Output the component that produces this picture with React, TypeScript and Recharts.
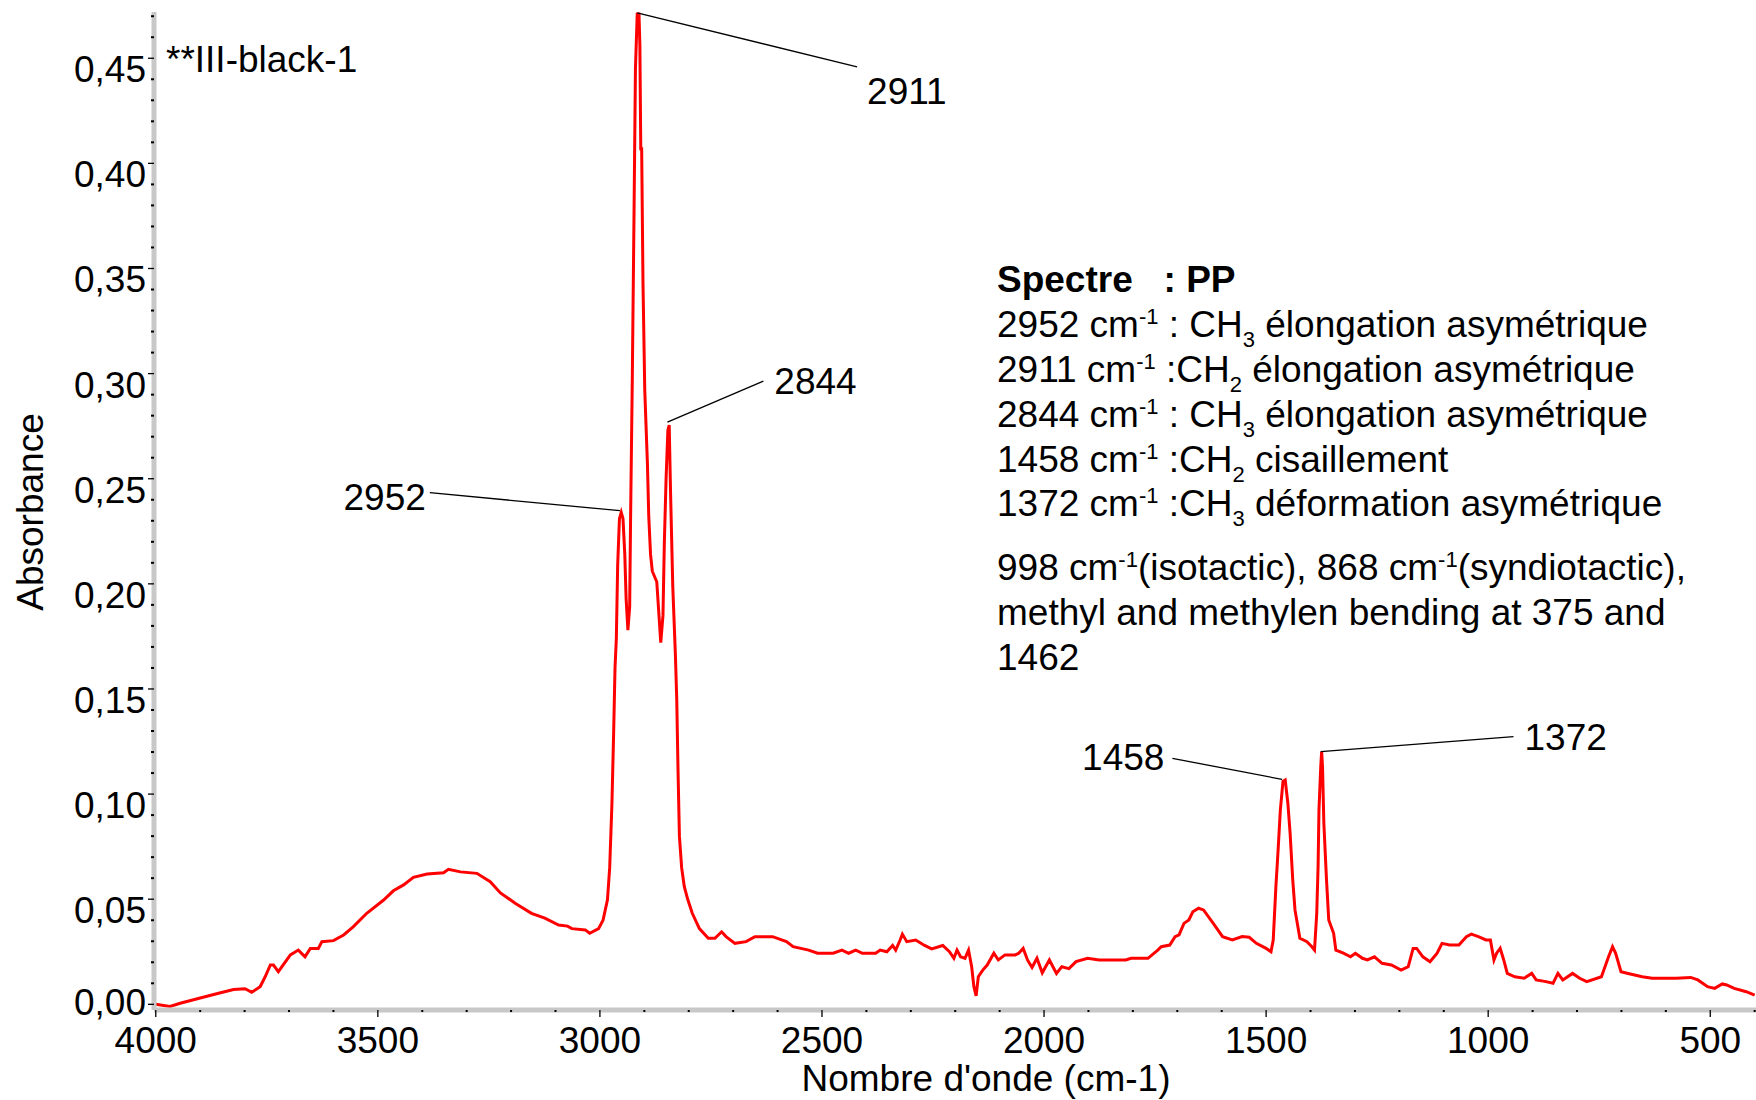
import React from 'react';
import { LineChart, Line, XAxis, YAxis, ReferenceLine, ReferenceDot } from 'recharts';

const FONT = '"Liberation Sans", Arial, Helvetica, sans-serif';

// wavenumber (cm-1), high to low
const wavenumbers = [
  4000, 3968, 3945, 3900, 3863, 3825, 3799, 3784, 3765, 3754,
  3742, 3735, 3724, 3697, 3679, 3664, 3652, 3634, 3626, 3600,
  3577, 3555, 3525, 3487, 3465, 3442, 3420, 3389, 3352, 3341,
  3314, 3277, 3247, 3224, 3190, 3154, 3124, 3093, 3073, 3063,
  3033, 3023, 3003, 2993, 2983, 2978, 2973, 2969, 2966, 2963,
  2960, 2956, 2952, 2948, 2944, 2941, 2937, 2933, 2931, 2927,
  2923, 2920, 2916, 2912, 2910, 2908, 2906, 2903, 2899, 2893,
  2890, 2886, 2882, 2872, 2867, 2863, 2858, 2855, 2851, 2847,
  2844, 2841, 2836, 2830, 2827, 2824, 2821, 2816, 2810, 2802,
  2792, 2776, 2756, 2741, 2726, 2716, 2696, 2671, 2651, 2611,
  2580, 2565, 2530, 2510, 2475, 2455, 2440, 2424, 2409, 2379,
  2369, 2354, 2341, 2334, 2324, 2319, 2309, 2289, 2269, 2253,
  2228, 2213, 2203, 2196, 2188, 2178, 2170, 2163, 2158, 2153,
  2148, 2138, 2128, 2113, 2103, 2088, 2065, 2057, 2047, 2037,
  2027, 2016, 2004, 1988, 1972, 1960, 1944, 1928, 1902, 1876,
  1859, 1816, 1804, 1766, 1744, 1736, 1717, 1705, 1696, 1685,
  1674, 1665, 1652, 1641, 1619, 1598, 1576, 1554, 1538, 1522,
  1500, 1489, 1484, 1478, 1473, 1468, 1462, 1457, 1451, 1446,
  1440, 1435, 1424, 1408, 1397, 1391, 1386, 1383, 1381, 1377,
  1375, 1373, 1370, 1364, 1359, 1348, 1343, 1326, 1310, 1299,
  1283, 1272, 1256, 1239, 1218, 1196, 1180, 1169, 1161, 1147,
  1131, 1115, 1104, 1087, 1066, 1049, 1038, 1022, 1005, 995,
  987, 981, 973, 965, 957, 940, 919, 902, 892, 870,
  854, 843, 832, 810, 794, 778, 745, 729, 720, 713,
  701, 685, 653, 631, 577, 544, 528, 506, 490, 473,
  463, 446, 419, 400,
];

// absorbance, same order as wavenumbers
const absorbance = [
  0, -0.001, 0.0005, 0.003, 0.005, 0.007, 0.0074, 0.0057, 0.0084, 0.013,
  0.0187, 0.0187, 0.0155, 0.0235, 0.0258, 0.0226, 0.0266, 0.0266, 0.0298, 0.0303,
  0.033, 0.037, 0.0433, 0.0496, 0.054, 0.0568, 0.0604, 0.062, 0.0626, 0.0642,
  0.063, 0.0623, 0.0583, 0.053, 0.048, 0.0433, 0.041, 0.0377, 0.0372, 0.036,
  0.0354, 0.0338, 0.036, 0.04, 0.0497, 0.065, 0.095, 0.13, 0.16, 0.174,
  0.209, 0.231, 0.234, 0.231, 0.214, 0.193, 0.178, 0.189, 0.23, 0.299,
  0.38, 0.445, 0.471, 0.471, 0.456, 0.407, 0.407, 0.343, 0.292, 0.257,
  0.232, 0.214, 0.206, 0.201, 0.185, 0.172, 0.185, 0.219, 0.25, 0.273,
  0.2755, 0.244, 0.199, 0.166, 0.145, 0.11, 0.08, 0.065, 0.056, 0.0497,
  0.0433, 0.036, 0.0314, 0.0314, 0.0345, 0.0322, 0.029, 0.0298, 0.0322, 0.0322,
  0.0298, 0.0274, 0.0258, 0.0243, 0.0243, 0.0258, 0.0243, 0.0258, 0.0243, 0.0243,
  0.0258, 0.025, 0.028, 0.0258, 0.0306, 0.0334, 0.0298, 0.0306, 0.028, 0.0264,
  0.028, 0.025, 0.0219, 0.0258, 0.0226, 0.0219, 0.0258, 0.0179, 0.0084, 0.004,
  0.0131, 0.0163, 0.0187, 0.0243, 0.0211, 0.0235, 0.0235, 0.0243, 0.0266, 0.021,
  0.0175, 0.0219, 0.015, 0.0211, 0.0147, 0.0179, 0.017, 0.0203, 0.0219, 0.0211,
  0.0211, 0.0211, 0.0219, 0.0219, 0.0258, 0.0274, 0.0282, 0.0322, 0.033, 0.0385,
  0.0401, 0.044, 0.0457, 0.0449, 0.0385, 0.0322, 0.0306, 0.0322, 0.0319, 0.029,
  0.0266, 0.025, 0.0306, 0.056, 0.0734, 0.0924, 0.106, 0.1067, 0.0956, 0.0814,
  0.0591, 0.0449, 0.0314, 0.0298, 0.0274, 0.0258, 0.0433, 0.0655, 0.0924, 0.113,
  0.1202, 0.113, 0.0861, 0.0591, 0.0401, 0.0338, 0.0258, 0.0243, 0.0226, 0.0243,
  0.0219, 0.0211, 0.0226, 0.0195, 0.0187, 0.0163, 0.0179, 0.0266, 0.0266, 0.0226,
  0.0203, 0.0243, 0.029, 0.0282, 0.0282, 0.0322, 0.0334, 0.0322, 0.0306, 0.0306,
  0.0211, 0.0243, 0.0266, 0.0211, 0.0147, 0.0131, 0.0124, 0.0147, 0.0116, 0.0108,
  0.01, 0.0147, 0.0116, 0.0147, 0.0124, 0.0108, 0.0131, 0.0226, 0.0274, 0.0243,
  0.0155, 0.0147, 0.0131, 0.0124, 0.0124, 0.0128, 0.0116, 0.0084, 0.0076, 0.0097,
  0.0092, 0.0076, 0.006, 0.0044,
];

const xMajorTicks = [4000, 3500, 3000, 2500, 2000, 1500, 1000, 500];
const yMajorTicks = [0, 0.05, 0.1, 0.15, 0.2, 0.25, 0.3, 0.35, 0.4, 0.45];
const yTickLabels = ['0,00', '0,05', '0,10', '0,15', '0,20', '0,25', '0,30', '0,35', '0,40', '0,45'];

// minor ticks every 100 cm-1 and every 0.01
const xTicks = Array.from({ length: 37 }, (_, i) => 4000 - i * 100);
const yTicks = Array.from({ length: 48 }, (_, i) => i / 100);

// peak annotations: name, point on the peak, far end of the leader line
const peakNames = ['2952', '2911', '2844', '1458', '1372'];
const peakPoints = [[2955, 0.2348], [2916, 0.4716], [2848, 0.2769], [1464, 0.107], [1377, 0.1202]];
const leaderEnds = [[3383, 0.2434], [2421, 0.4459], [2632, 0.2964], [1711, 0.117], [943, 0.1273]];
const labelOffsets = [
  { dx: -4, dy: 17, anchor: 'end' },
  { dx: 10, dy: 37, anchor: 'start' },
  { dx: 11, dy: 13, anchor: 'start' },
  { dx: -8, dy: 12, anchor: 'end' },
  { dx: 11, dy: 13, anchor: 'start' },
];

type Seg = { t: string; sup?: boolean; sub?: boolean };
const noteTitle = 'Spectre   : PP';
const noteRows: Seg[][] = [
  [{ t: '2952 cm' }, { t: '-1', sup: true }, { t: ' : CH' }, { t: '3', sub: true }, { t: ' élongation asymétrique' }],
  [{ t: '2911 cm' }, { t: '-1', sup: true }, { t: ' :CH' }, { t: '2', sub: true }, { t: ' élongation asymétrique' }],
  [{ t: '2844 cm' }, { t: '-1', sup: true }, { t: ' : CH' }, { t: '3', sub: true }, { t: ' élongation asymétrique' }],
  [{ t: '1458 cm' }, { t: '-1', sup: true }, { t: ' :CH' }, { t: '2', sub: true }, { t: ' cisaillement' }],
  [{ t: '1372 cm' }, { t: '-1', sup: true }, { t: ' :CH' }, { t: '3', sub: true }, { t: ' déformation asymétrique' }],
  [{ t: '998 cm' }, { t: '-1', sup: true }, { t: '(isotactic), 868 cm' }, { t: '-1', sup: true }, { t: '(syndiotactic),' }],
  [{ t: 'methyl and methylen bending at 375 and' }],
  [{ t: '1462' }],
];
const noteBaselines = [337, 382, 427, 472, 516, 580, 625, 670];

const data = wavenumbers.map((wn, i) => ({ wn, a: absorbance[i] }));

const XTick = (props: any) => {
  const { x, y, payload } = props;
  const v = payload.value;
  const major = xMajorTicks.includes(v);
  return (
    <g>
      <line x1={x} x2={x} y1={y} y2={y + (major ? 7 : 2)} stroke="#000" strokeWidth={major ? 1.3 : 2} />
      {major && (
        <text x={x} y={y + 43} textAnchor="middle" fontSize={37} fontFamily={FONT} fill="#000">
          {v}
        </text>
      )}
    </g>
  );
};

const YTick = (props: any) => {
  const { x, y, payload } = props;
  const k = Math.round(payload.value * 100);
  const idx = yMajorTicks.findIndex((t) => Math.round(t * 100) === k);
  const major = idx >= 0;
  return (
    <g>
      <line x1={x - (major ? 6 : 3)} x2={x} y1={y} y2={y} stroke="#000" strokeWidth={major ? 1.3 : 2} />
      {major && (
        <text x={x - 8} y={y + (k === 0 ? 11 : 24)} textAnchor="end" fontSize={37} fontFamily={FONT} fill="#000">
          {yTickLabels[idx]}
        </text>
      )}
    </g>
  );
};

const renderSegs = (segs: Seg[]) => {
  let shift = 0;
  return segs.map((s, i) => {
    const target = s.sup ? -13 : s.sub ? 10 : 0;
    const dy = target - shift;
    shift = target;
    return (
      <tspan key={i} dy={dy || undefined} fontSize={s.sup || s.sub ? 22 : undefined}>
        {s.t}
      </tspan>
    );
  });
};

export default function App() {
  return (
    <div style={{ position: 'absolute', left: 0, top: 0, width: 1756, height: 1100, background: '#fff' }}>
      <LineChart width={1756} height={1100} data={data} margin={{ top: 12, right: 0, bottom: 0, left: 0 }}>
        <XAxis
          dataKey="wn"
          type="number"
          domain={[397, 4004]}
          reversed
          allowDataOverflow
          ticks={xTicks}
          interval={0}
          height={90}
          tickSize={0}
          tickMargin={0}
          tick={<XTick />}
          axisLine={{ stroke: '#c8c8c8', strokeWidth: 5 }}
        />
        <YAxis
          type="number"
          domain={[-0.0027, 0.472]}
          allowDataOverflow
          ticks={yTicks}
          interval={0}
          width={154}
          tickSize={0}
          tickMargin={0}
          tick={<YTick />}
          axisLine={{ stroke: '#c8c8c8', strokeWidth: 5 }}
        />
        <Line
          type="linear"
          dataKey="a"
          stroke="#ff0000"
          strokeWidth={3}
          dot={false}
          activeDot={false}
          isAnimationActive={false}
        />
        {peakNames.map((name, i) => (
          <ReferenceLine
            key={'l' + name}
            segment={[
              { x: peakPoints[i][0], y: peakPoints[i][1] },
              { x: leaderEnds[i][0], y: leaderEnds[i][1] },
            ]}
            stroke="#000"
            strokeWidth={1.3}
            ifOverflow="visible"
          />
        ))}
        {peakNames.map((name, i) => (
          <ReferenceDot
            key={'d' + name}
            x={leaderEnds[i][0]}
            y={leaderEnds[i][1]}
            r={0}
            fill="none"
            stroke="none"
            ifOverflow="visible"
            label={(p: any) => (
              <text
                x={p.viewBox.x + labelOffsets[i].dx}
                y={p.viewBox.y + labelOffsets[i].dy}
                textAnchor={labelOffsets[i].anchor}
                fontSize={37}
                fontFamily={FONT}
                fill="#000"
              >
                {name}
              </text>
            )}
          />
        ))}
      </LineChart>
      <svg
        width={1756}
        height={1100}
        style={{ position: 'absolute', left: 0, top: 0, pointerEvents: 'none' }}
        fontFamily={FONT}
        fontSize={37}
        fill="#000"
      >
        <text x={166} y={72}>**III-black-1</text>
        <text x={43} y={512} textAnchor="middle" transform="rotate(-90 43 512)">
          Absorbance
        </text>
        <text x={986} y={1091} textAnchor="middle">
          Nombre d'onde (cm-1)
        </text>
        <text x={997} y={292} fontWeight="bold" style={{ whiteSpace: 'pre' }}>
          {noteTitle}
        </text>
        {noteRows.map((row, i) => (
          <text key={i} x={997} y={noteBaselines[i]} style={{ whiteSpace: 'pre' }}>
            {renderSegs(row)}
          </text>
        ))}
      </svg>
    </div>
  );
}
